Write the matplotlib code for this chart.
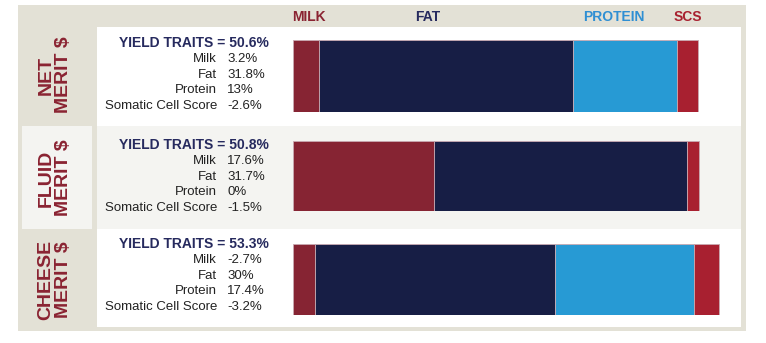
import matplotlib
from matplotlib import pyplot as plt
from matplotlib.patches import Rectangle

matplotlib.rcParams["font.family"] = ["Liberation Sans", "DejaVu Sans"]

# data
programs = ["NET\nMERIT $", "FLUID\nMERIT $", "CHEESE\nMERIT $"]
yield_totals = [50.6, 50.8, 53.3]
milk = [3.2, 17.6, -2.7]
fat = [31.8, 31.7, 30]
protein = [13, 0, 17.4]
scs = [-2.6, -1.5, -3.2]
trait_names = ["Milk", "Fat", "Protein", "Somatic Cell Score"]
trait_headers = ["MILK", "FAT", "PROTEIN", "SCS"]

bar_colors = ["#862433", "#171e45", "#279ad4", "#a82030"]
header_colors = ["#8a2332", "#262a5e", "#2f8fd3", "#a8202f"]
label_red = "#8a2332"
navy = "#262a5e"
beige = "#e3e1d6"
light = "#f4f4f1"

W, H = 766, 343


def main():
    fig = plt.figure(figsize=(W / 100, H / 100), dpi=100)
    bg = fig.add_axes([0, 0, 1, 1])
    bg.set_xlim(0, W)
    bg.set_ylim(H, 0)
    bg.axis("off")

    # frame and panel backgrounds (pixel layout)
    bg.add_patch(Rectangle((18, 5), 728, 326, color=beige, lw=0))
    panel_spans = [(27, 126), (126, 229), (229, 327)]
    panel_fill = ["white", light, "white"]
    for (y0, y1), c in zip(panel_spans, panel_fill):
        bg.add_patch(Rectangle((97, y0), 644, y1 - y0, color=c, lw=0))
    bg.add_patch(Rectangle((22, 126), 70, 103, color=light, lw=0))

    # column headers
    header_x = [292, 428, 614, 688]
    header_ha = ["left", "center", "center", "center"]
    for name, x, ha, c in zip(trait_headers, header_x, header_ha, header_colors):
        bg.text(x, 17, name, color=c, fontsize=10, fontweight="bold",
                ha=ha, va="center")

    label_y = [75, 178, 280]
    yield_y = [43, 145, 244]
    bar_spans = [(40, 112), (141, 211), (244, 315)]
    px_per_pct = 8.0
    bar_left, bar_right = 293, 741

    for i, prog in enumerate(programs):
        bg.text(54.5, label_y[i], prog, rotation=90, color=label_red,
                fontsize=14, fontweight="bold", ha="center", va="center",
                multialignment="center", linespacing=1.0)

        bg.text(119, yield_y[i], f"YIELD TRAITS = {yield_totals[i]:g}%",
                color=navy, fontsize=10, fontweight="bold", va="center")
        vals = [milk[i], fat[i], protein[i], scs[i]]
        for j, (name, v) in enumerate(zip(trait_names, vals)):
            y = yield_y[i] + 15.8 * (j + 1)
            bg.text(217, y, name, color="#222222", fontsize=9.5,
                    ha="right", va="center")
            bg.text(227, y, f"{v:g}%", color="#222222", fontsize=9.5,
                    ha="left", va="center")

        # stacked bar, absolute contributions
        y0, y1 = bar_spans[i]
        ax = fig.add_axes([bar_left / W, 1 - y1 / H,
                           (bar_right - bar_left) / W, (y1 - y0) / H])
        ax.set_xlim(0, (bar_right - bar_left) / px_per_pct)
        ax.set_ylim(-0.5, 0.5)
        ax.axis("off")
        left = 0
        for v, c in zip(vals, bar_colors):
            w = abs(v)
            if w == 0:
                continue
            ax.barh(0, w, left=left, height=1, color=c,
                    edgecolor="#c9aab2", linewidth=0.6)
            left += w

    fig.savefig("out.png", dpi=100)


if __name__ == "__main__":
    main()
